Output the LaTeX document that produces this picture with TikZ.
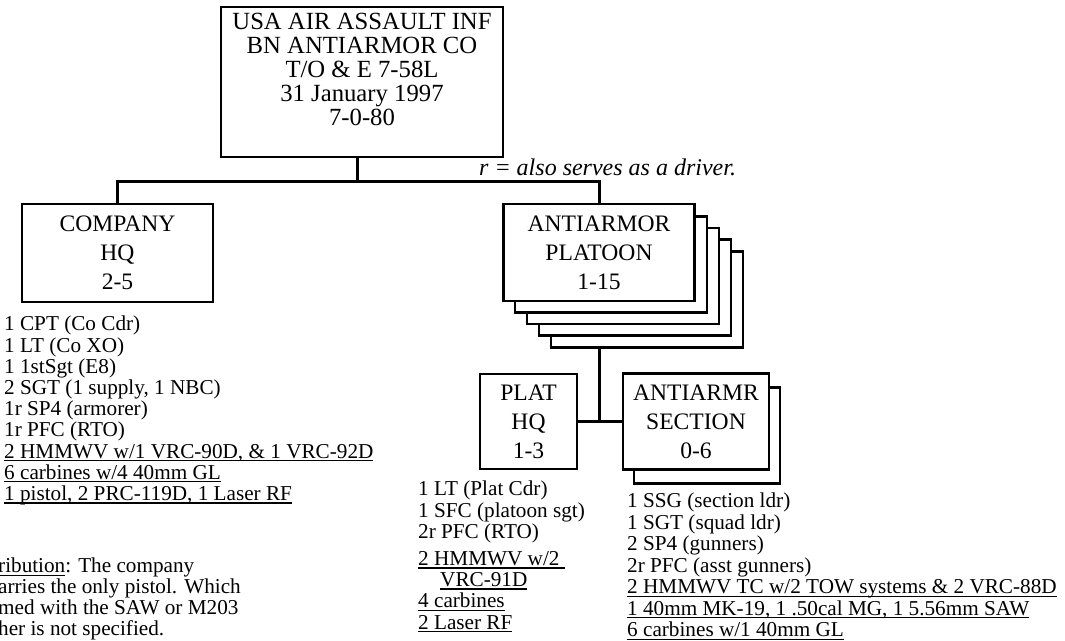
\documentclass[tikz,border=0pt]{standalone}
\usepackage{fontspec}
\setmainfont{Liberation Serif}
\usepackage{tikz}

% 下線 (ベースラインから少し下)
\newcommand{\uln}[1]{\sbox0{#1}\rlap{\rule[-3pt]{\wd0}{1.3pt}}\usebox0}

\begin{document}
\begin{tikzpicture}[x=1pt,y=-1pt,
    orgbox/.style={draw,line width=2.8pt,fill=white,inner sep=0pt,align=center,
      font={\fontsize{23.6}{29}\selectfont}},
    roster/.style={anchor=north west,inner sep=0pt,align=left,
      font={\fontsize{21.2}{21.2}\selectfont}},
    link/.style={line width=3pt}]
  \useasboundingbox (0,0) rectangle (1065,640);

  % 中隊
  \node[orgbox,minimum width=282,minimum height=150,
    font={\fontsize{24.7}{24}\selectfont}] (bn) at (362,82)
    {USA AIR ASSAULT INF\\BN ANTIARMOR CO\\T/O \& E 7-58L\\31 January 1997\\7-0-80\rule[-26pt]{0pt}{0pt}};
  \node[anchor=base west,inner sep=0pt,font={\fontsize{24}{24}\selectfont\itshape}] (rkey)
    at (479,175) {r = also serves as a driver.};

  % 本部
  \node[orgbox,minimum width=191,minimum height=98] (hq) at (117.5,253) {COMPANY\\HQ\\2-5};

  % 小隊 (4 枚重ね)
  \coordinate (pltc) at (599,252.5);
  \foreach \i in {4,3,2,1}
    \node[orgbox,minimum width=192,minimum height=96] (pl\i) at ([shift={(12*\i,11.75*\i)}]pltc) {};
  \node[orgbox,minimum width=191,minimum height=97] (plt) at (pltc) {ANTIARMOR\\PLATOON\\1-15};

  % 小隊本部・分隊
  \node[orgbox,minimum width=97,minimum height=95] (phq) at (528.5,421.5) {PLAT\\HQ\\1-3};
  \coordinate (secc) at (696,421.5);
  \node[orgbox,minimum width=146,minimum height=96] (secbk) at ([shift={(11,14)}]secc) {};
  \node[orgbox,minimum width=146,minimum height=96] (sec) at (secc) {ANTIARMR\\SECTION\\0-6};

  % 線
  \coordinate (split) at (357,181);
  \draw[link] (bn.south -| split) -- (split);
  \draw[link] (hq.north) |- (split) -| (plt.north);
  \draw[link] (plt.center |- pl4.south) -- (plt.center |- phq.east);
  \draw[link] (phq.east) -- (sec.west);

  % 人員・装備
  \node[roster] (hqlist) at (4,316) {1 CPT (Co Cdr)\\1 LT (Co XO)\\1 1stSgt (E8)\\2 SGT (1 supply, 1 NBC)\\1r SP4 (armorer)\\1r PFC (RTO)\\\uln{2 HMMWV w/1 VRC-90D, \& 1 VRC-92D}\\\uln{6 carbines w/4 40mm GL}\\\uln{1 pistol, 2 PRC-119D, 1 Laser RF}};
  \node[roster] (phqlist) at (418,481) {1 LT (Plat Cdr)\\1 SFC (platoon sgt)\\2r PFC (RTO)\\[6pt]\uln{2 HMMWV w/2\ }\\\hspace*{22pt}\uln{VRC-91D}\\\uln{4 carbines}\\\uln{2 Laser RF}};
  \node[roster,font={\fontsize{21.2}{21.5}\selectfont}] (seclist) at (627,493) {1 SSG (section ldr)\\1 SGT (squad ldr)\\2 SP4 (gunners)\\2r PFC (asst gunners)\\\uln{2 HMMWV TC w/2 TOW systems \& 2 VRC-88D}\\\uln{1 40mm MK-19, 1 .50cal MG, 1 5.56mm SAW}\\\uln{6 carbines w/1 40mm GL}};
  \node[roster,font={\fontsize{21.2}{20.7}\selectfont}] (note) at (-2,558) {\uln{ribution}: The company\\arries the only pistol. Which\\med with the SAW or M203\\her is not specified.};
\end{tikzpicture}
\end{document}
